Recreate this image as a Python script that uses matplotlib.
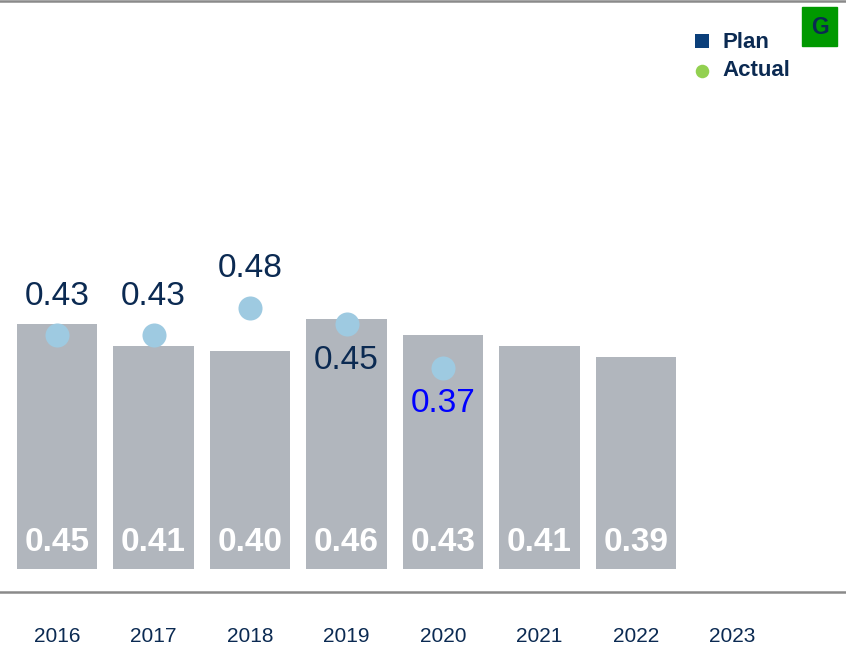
import numpy as np
import matplotlib.pyplot as plt

plt.rcParams['font.family'] = ['Liberation Sans', 'DejaVu Sans']

years = ['2016', '2017', '2018', '2019', '2020', '2021', '2022', '2023']
plan = [0.45, 0.41, 0.40, 0.46, 0.43, 0.41, 0.39]
actual = [0.43, 0.43, 0.48, 0.45, 0.37]
actual_label_pos = ['above', 'above', 'above', 'below', 'below']
actual_label_col = ['#0b2a52', '#0b2a52', '#0b2a52', '#0b2a52', '#0000ff']

navy = '#0b2a52'
bar_col = '#b1b6bd'
dot_col = '#9ecae1'

fig = plt.figure(figsize=(8.46, 6.45), dpi=100)
ax = fig.add_axes([0, 1 - 592 / 645, 1, 591 / 645])

x_plan = np.arange(len(plan))
ax.bar(x_plan, plan, width=0.83, color=bar_col, zorder=1)
for xi, v in zip(x_plan, plan):
    ax.annotate(f'{v:.2f}', (xi, 0), xytext=(0, 19), textcoords='offset points',
                ha='center', va='center', color='white', fontsize=24,
                fontweight='bold', zorder=3)

x_act = np.arange(len(actual))
ax.scatter(x_act, actual, s=300, color=dot_col, zorder=2, linewidths=0)
for xi, v, pos, c in zip(x_act, actual, actual_label_pos, actual_label_col):
    dy = 28 if pos == 'above' else -26
    ax.annotate(f'{v:.2f}', (xi, v), xytext=(0, dy), textcoords='offset points',
                ha='center', va='center', color=c, fontsize=24, zorder=3)

ax.set_xlim(-0.591, 8.176)
ax.set_ylim(-23 / 544, 568 / 544)
ax.set_xticks(np.arange(len(years)))
ax.set_xticklabels(years, fontsize=15, color=navy)
ax.tick_params(axis='x', length=0, pad=25)
ax.set_yticks([])
for side in ['left', 'right']:
    ax.spines[side].set_visible(False)
for side in ['top', 'bottom']:
    ax.spines[side].set_color('#8a8a8a')
    ax.spines[side].set_linewidth(1.8)

# legend
ax.scatter([702 / 846], [1 - 40 / 591], marker='s', s=100, color='#0b3f7a',
           transform=ax.transAxes, clip_on=False, linewidths=0)
ax.scatter([702 / 846], [1 - 70 / 591], marker='o', s=95, color='#92d050',
           transform=ax.transAxes, clip_on=False, linewidths=0)
ax.text(722 / 846, 1 - 41 / 591, 'Plan', transform=ax.transAxes, ha='left',
        va='center', fontsize=16, fontweight='bold', color=navy)
ax.text(722 / 846, 1 - 69 / 591, 'Actual', transform=ax.transAxes, ha='left',
        va='center', fontsize=16, fontweight='bold', color=navy)

# status box
fig.patches.append(plt.Rectangle((802 / 846, 1 - 46 / 645), 35 / 846, 39 / 645,
                                 transform=fig.transFigure, color='#009900'))
fig.text(820 / 846, 1 - 27 / 645, 'G', ha='center', va='center', fontsize=16.5,
         fontweight='bold', color=navy)

fig.savefig('out.png', dpi=100)
